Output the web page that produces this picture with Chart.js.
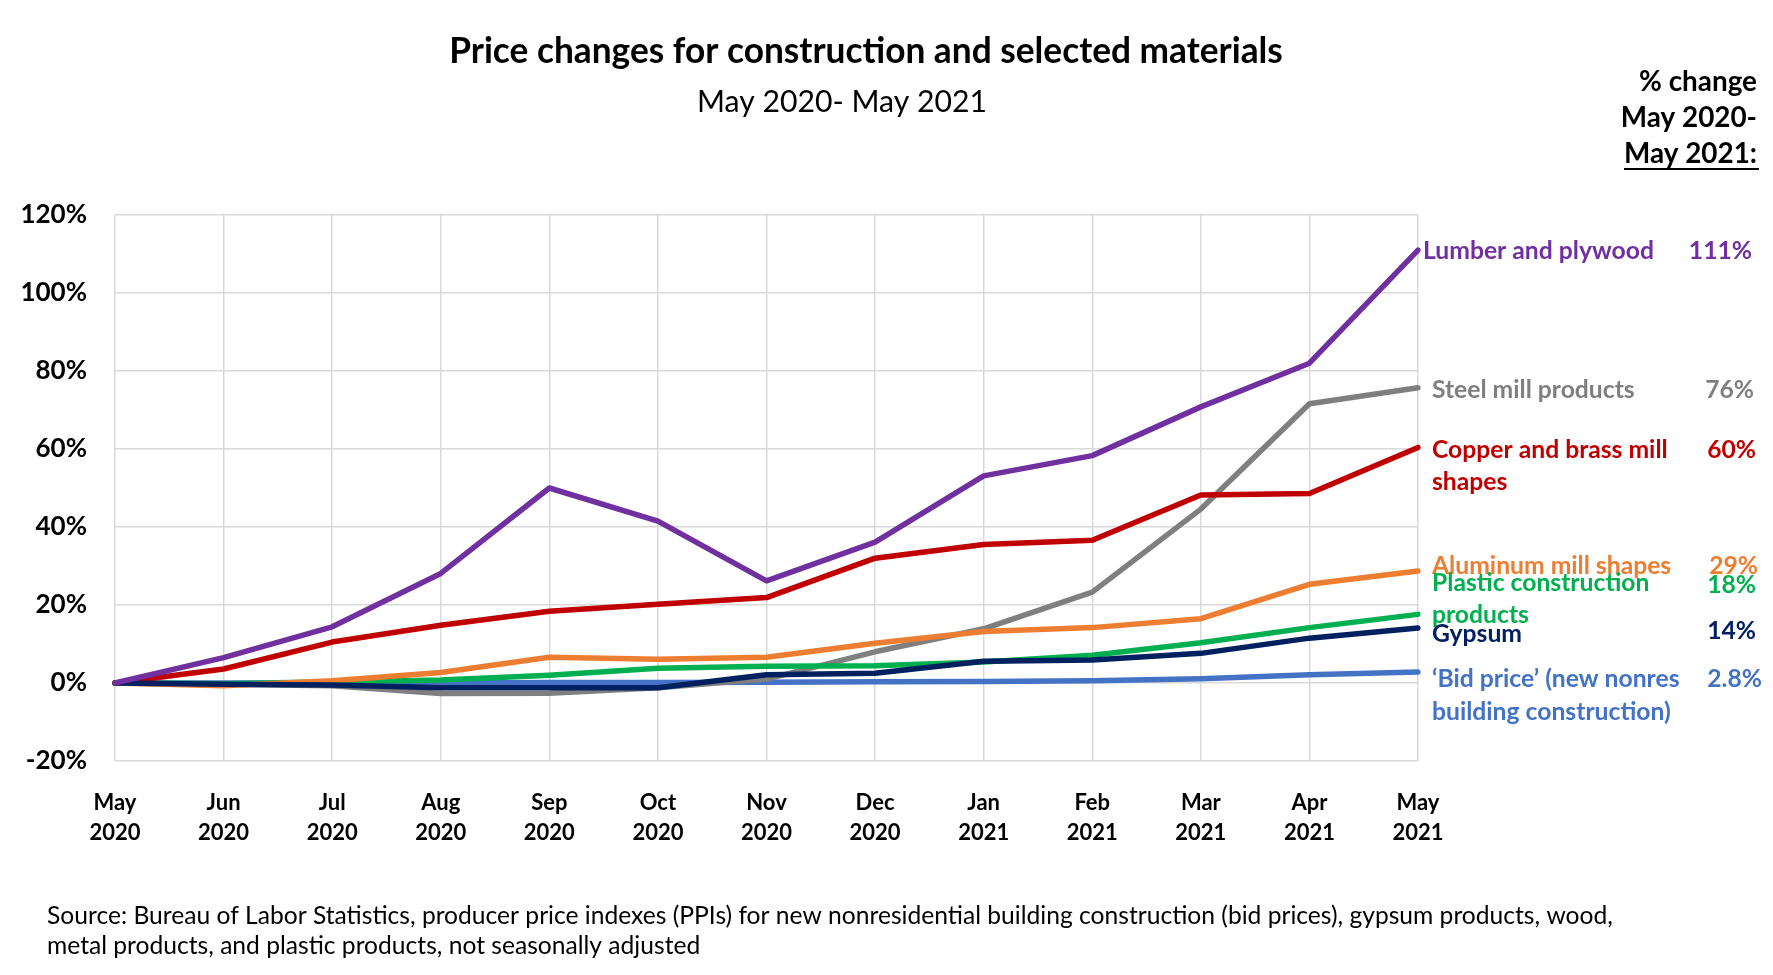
<!DOCTYPE html>
<html>
<head>
<meta charset="utf-8">
<script src="https://cdn.jsdelivr.net/npm/chart.js@4.4.1/dist/chart.umd.min.js"></script>
<style>
    html, body { margin: 0; padding: 0; background: #fff; }
    canvas { display: block; }
</style>
</head>
<body>
<canvas id="priceChart" width="1773" height="975"></canvas>
<script>
// ================= DATA =================
const months = [
    ["May", "2020"], ["Jun", "2020"], ["Jul", "2020"], ["Aug", "2020"],
    ["Sep", "2020"], ["Oct", "2020"], ["Nov", "2020"], ["Dec", "2020"],
    ["Jan", "2021"], ["Feb", "2021"], ["Mar", "2021"], ["Apr", "2021"], ["May", "2021"]
];

// % change since May 2020
const lumber   = [0, 6.5, 14.4, 28.1, 50.0, 41.5, 26.2, 36.1, 53.1, 58.3, 70.8, 82.0, 111.0];
const steel    = [0, -0.3, -0.7, -2.7, -2.6, -1.2, 1.0, 8.0, 13.9, 23.3, 44.6, 71.6, 75.7];
const copper   = [0, 3.6, 10.5, 14.8, 18.4, 20.2, 21.9, 32.0, 35.5, 36.6, 48.2, 48.6, 60.4];
const aluminum = [0, -0.7, 0.6, 2.7, 6.6, 6.1, 6.6, 10.2, 13.2, 14.2, 16.5, 25.3, 28.7];
const plastic  = [0, -0.2, 0.3, 0.8, 2.0, 3.8, 4.3, 4.4, 5.4, 7.1, 10.3, 14.2, 17.6];
const gypsum   = [0, -0.3, -0.5, -1.2, -1.2, -1.2, 2.1, 2.5, 5.6, 5.9, 7.6, 11.5, 14.1];
const bidPrice = [0, 0, 0, 0, 0.1, 0.1, 0.2, 0.3, 0.4, 0.6, 1.1, 2.1, 2.8];

const yTicks = [-20, 0, 20, 40, 60, 80, 100, 120];

// ================= TEXT HELPERS =================
function sizeToFit(c, text, weight, width) {
    c.font = weight + " 100px Lato";
    return 100 * width / c.measureText(text).width;
}

function label(c, text, x, y, size, color, align) {
    c.font = "bold " + size + "px Lato";
    c.fillStyle = color;
    c.textAlign = align;
    c.fillText(text, x, y);
    return c.measureText(text).width;
}

// ================= ANNOTATIONS =================
const textPlugin = {
    id: "texts",
    afterDraw(chart) {
        const c = chart.ctx;
        c.save();
        c.textBaseline = "middle";
        c.fillStyle = "#000";

        // title + subtitle
        let title = "Price changes for construction and selected materials";
        let ts = sizeToFit(c, title, "bold", 834);
        c.font = "bold " + ts + "px Lato";
        c.textAlign = "center";
        c.fillText(title, 866, 52);

        let sub = "May 2020- May 2021";
        let ss = sizeToFit(c, sub, "normal", 290);
        c.font = ss + "px Lato";
        c.fillText(sub, 842, 102);

        // source
        let src1 = "Source: Bureau of Labor Statistics, producer price indexes (PPIs) for new nonresidential building construction (bid prices), gypsum products, wood,";
        let src2 = "metal products, and plastic products, not seasonally adjusted";
        let srcSize = sizeToFit(c, src1, "normal", 1567);
        c.font = srcSize + "px Lato";
        c.textAlign = "left";
        c.fillText(src1, 47, 916);
        c.fillText(src2, 47, 946);

        // header on the right
        let hs = sizeToFit(c, "May 2021:", "bold", 133);
        label(c, "% change", 1757, 82, hs, "#000", "right");
        label(c, "May 2020-", 1757, 118, hs, "#000", "right");
        let w = label(c, "May 2021:", 1757, 154, hs, "#000", "right");
        c.strokeStyle = "#000";
        c.lineWidth = 2;
        c.beginPath();
        c.moveTo(1757 - w, 169);
        c.lineTo(1759, 169);
        c.stroke();

        // series labels
        const fs = sizeToFit(c, "Lumber and plywood", "bold", 231);
        label(c, "Lumber and plywood", 1423, 251, fs, "#7030A0", "left");
        label(c, "111%", 1752, 251, fs, "#7030A0", "right");

        label(c, "Steel mill products", 1432, 390, fs, "#7F7F7F", "left");
        label(c, "76%", 1754, 390, fs, "#7F7F7F", "right");

        label(c, "Copper and brass mill", 1432, 450, fs, "#C00000", "left");
        label(c, "shapes", 1432, 482, fs, "#C00000", "left");
        label(c, "60%", 1756, 450, fs, "#C00000", "right");

        label(c, "Aluminum mill shapes", 1432, 566, fs, "#ED7D31", "left");
        label(c, "29%", 1758, 566, fs, "#ED7D31", "right");

        label(c, "Plastic construction", 1432, 583, fs, "#00B050", "left");
        label(c, "products", 1432, 615, fs, "#00B050", "left");
        label(c, "18%", 1756, 585, fs, "#00B050", "right");

        label(c, "Gypsum", 1432, 634, fs, "#002060", "left");
        label(c, "14%", 1756, 631, fs, "#002060", "right");

        label(c, "\u2018Bid price\u2019 (new nonres", 1432, 679, fs, "#4472C4", "left");
        label(c, "building construction)", 1432, 712, fs, "#4472C4", "left");
        label(c, "2.8%", 1762, 679, fs, "#4472C4", "right");
        c.restore();
    }
};

// ================= CHART =================
function series(data, color) {
    return {
        data: data,
        borderColor: color,
        backgroundColor: color,
        borderWidth: 5.5,
        pointRadius: 0,
        tension: 0,
        borderCapStyle: "round",
        borderJoinStyle: "round",
        fill: false
    };
}

window.onload = function () {
    const ctx = document.getElementById("priceChart").getContext("2d");

    new Chart(ctx, {
        type: "line",
        data: {
            labels: months,
            // first dataset is drawn on top
            datasets: [
                series(lumber, "#7030A0"),
                series(gypsum, "#002060"),
                series(copper, "#C00000"),
                series(aluminum, "#ED7D31"),
                series(plastic, "#00B050"),
                series(steel, "#7F7F7F"),
                series(bidPrice, "#4472C4")
            ]
        },
        options: {
            responsive: false,
            animation: false,
            layout: { padding: { left: 0, top: 215, right: 355, bottom: 94 } },
            plugins: {
                legend: { display: false },
                tooltip: { enabled: false }
            },
            scales: {
                x: {
                    grid: { color: "#D9D9D9", lineWidth: 1.5, drawTicks: false },
                    border: { display: false },
                    ticks: {
                        color: "#000",
                        font: { family: "Lato", weight: "bold", size: 22, lineHeight: "30px" },
                        padding: 27,
                        maxRotation: 0,
                        autoSkip: false
                    },
                    afterFit(scale) { scale.height = 120; }
                },
                y: {
                    min: -20,
                    max: 120,
                    afterBuildTicks(scale) {
                        scale.ticks = yTicks.map(v => ({ value: v }));
                    },
                    grid: { color: "#D9D9D9", lineWidth: 1.5, drawTicks: false },
                    border: { display: false },
                    ticks: {
                        color: "#000",
                        font: { family: "Lato", weight: "bold", size: 26 },
                        padding: 28,
                        callback: v => v + "%"
                    },
                    afterFit(scale) { scale.width = 115; }
                }
            }
        },
        plugins: [textPlugin]
    });
};
</script>
</body>
</html>
